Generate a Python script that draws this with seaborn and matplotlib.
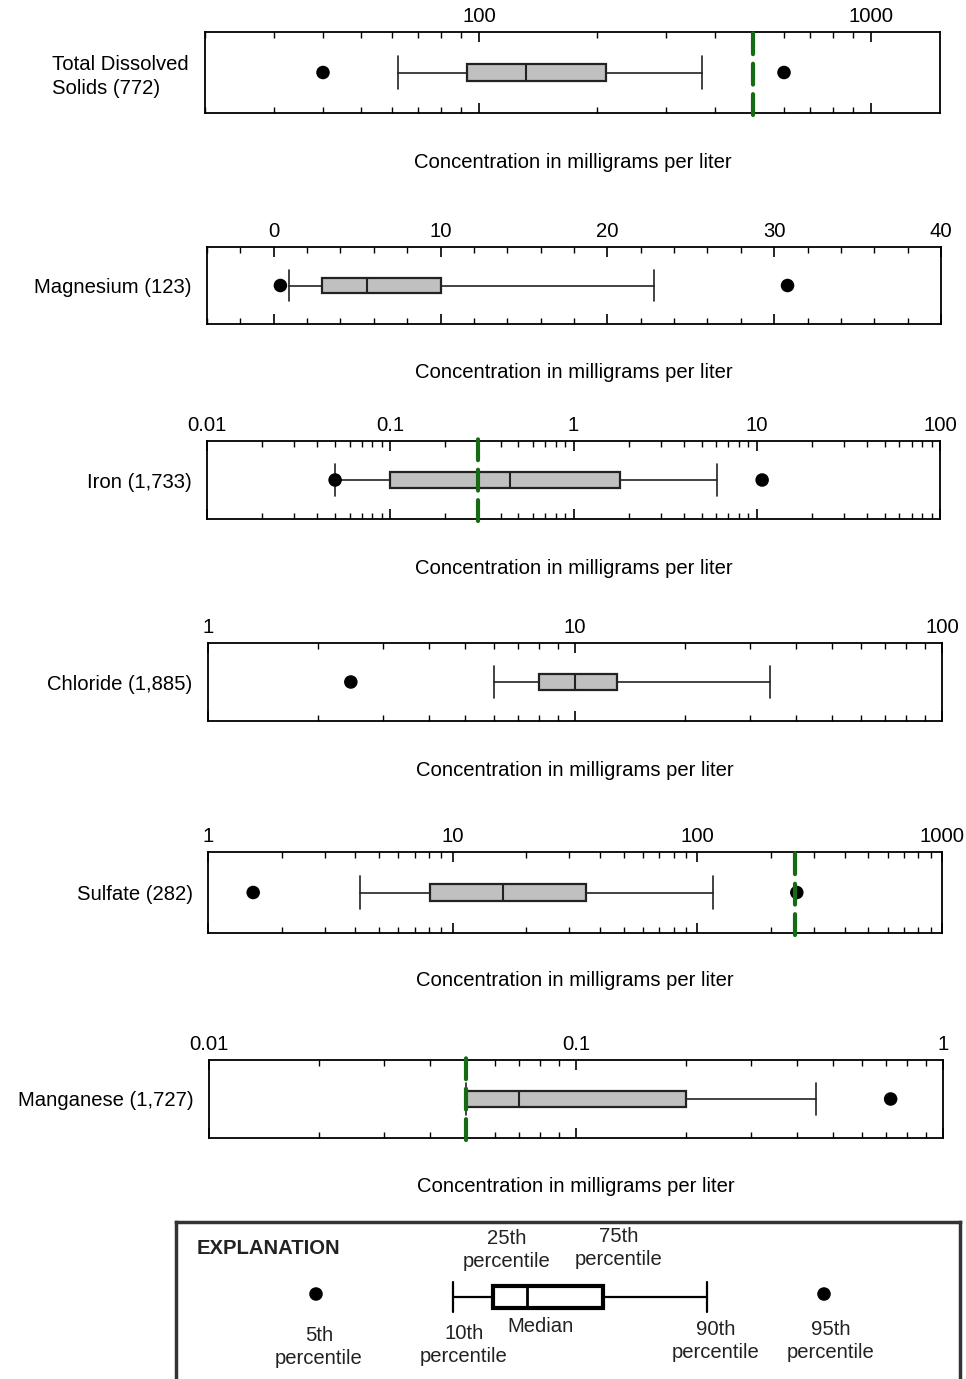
import numpy as np
import matplotlib
matplotlib.use("Agg")
import matplotlib.pyplot as plt
import seaborn as sns
from matplotlib.ticker import FuncFormatter, MultipleLocator, LogLocator, NullFormatter

# -----------------------------------------------
# Datos: percentiles por constituyente (mg/L)
analitos = ["Total Dissolved\nSolids (772)", "Magnesium (123)", "Iron (1,733)",
            "Chloride (1,885)", "Sulfate (282)", "Manganese (1,727)"]
p05 = [40, 0.4, 0.05, 2.45, 1.53, np.nan]
p10 = [62, 0.9, 0.05, 6.0, 4.2, 0.05]
p25 = [93, 2.9, 0.10, 8.0, 8.1, 0.05]
p50 = [132, 5.6, 0.45, 10.0, 16.0, 0.07]
p75 = [211, 10.0, 1.8, 13.0, 35.0, 0.20]
p90 = [370, 22.8, 6.1, 34.0, 116.0, 0.45]
p95 = [600, 30.8, 10.7, np.nan, 255.0, 0.72]
# Nivel secundario máximo de contaminante (línea verde)
smcl = [500, np.nan, 0.3, np.nan, 250, 0.05]
escalas = ["log", "linear", "log", "log", "log", "log"]
limites = [(20, 1500), (-4, 40), (0.01, 100), (1, 100), (1, 1000), (0.01, 1)]

# Esquema de la explicación (en unidades del eje de la leyenda)
clave_percentiles = [316, 453, 493, 527, 603, 707, 824]

# -----------------------------------------------
sns.set_theme(style="white")
plt.rcParams['font.family'] = ['Liberation Sans', 'DejaVu Sans']

W, H = 966, 1379
FS = 14.6
fig = plt.figure(figsize=(W / 100, H / 100), dpi=100)


def caja(x0, x1, y0, y1):
    return [x0 / W, 1 - y1 / H, (x1 - x0) / W, (y1 - y0) / H]


paneles = [(205, 940, 32, 113), (207, 941, 247, 324), (207, 940, 441, 519),
           (208, 942, 643, 721), (208, 942, 852, 933), (209, 943, 1060, 1138)]
y_titulo = [162, 372, 568, 770, 981, 1186]
oscuro = "#222222"

for i, nombre in enumerate(analitos):
    ax = fig.add_axes(caja(*paneles[i]))
    ax.set_xscale(escalas[i])

    stats = [dict(whislo=p10[i], q1=p25[i], med=p50[i], q3=p75[i],
                  whishi=p90[i], fliers=[], label="")]
    ax.bxp(stats, positions=[0], widths=0.4, capwidths=0.8,
           orientation="horizontal", patch_artist=True, showfliers=False,
           manage_ticks=False,
           boxprops=dict(facecolor="#c0c0c0", edgecolor=oscuro, linewidth=1.6),
           medianprops=dict(color=oscuro, linewidth=1.5),
           whiskerprops=dict(color=oscuro, linewidth=1.2),
           capprops=dict(color=oscuro, linewidth=1.2))

    puntos = [v for v in (p05[i], p95[i]) if not np.isnan(v)]
    sns.scatterplot(x=puntos, y=[0] * len(puntos), ax=ax, color="black",
                    s=95, edgecolor="none", legend=False, zorder=5)

    if not np.isnan(smcl[i]):
        ax.axvline(smcl[i], ymin=-0.03, ymax=1.03, clip_on=False,
                   color="#146b14", lw=3, linestyle=(0, (5, 2.3)),
                   dash_capstyle="round", zorder=6)

    ax.set_xlim(limites[i])
    ax.set_ylim(-1, 1)

    if escalas[i] == "log":
        ax.xaxis.set_major_locator(LogLocator(base=10))
        ax.xaxis.set_minor_locator(LogLocator(base=10, subs=np.arange(2, 10)))
    else:
        ax.xaxis.set_major_locator(MultipleLocator(10))
        ax.xaxis.set_minor_locator(MultipleLocator(2))
    ax.xaxis.set_major_formatter(FuncFormatter(lambda v, p: f"{v:g}"))
    ax.xaxis.set_minor_formatter(NullFormatter())

    ax.set_yticks([0], [nombre])
    for lbl in ax.get_yticklabels():
        lbl.set_multialignment("left")
        lbl.set_linespacing(1.32)
    ax.tick_params(axis="y", length=0, pad=12 if "\n" in nombre else 11,
                   labelsize=FS, labelcolor="black")
    ax.tick_params(axis="x", which="both", direction="in", top=True, bottom=True,
                   labeltop=True, labelbottom=False, labelsize=FS, pad=4,
                   color="black", labelcolor="black")
    ax.tick_params(axis="x", which="major", length=7, width=1.2)
    ax.tick_params(axis="x", which="minor", length=4, width=1.0)
    for s in ax.spines.values():
        s.set_color("black")
        s.set_linewidth(1.3)

    fig.text((paneles[i][0] + paneles[i][1]) / 2 / W, 1 - y_titulo[i] / H,
             "Concentration in milligrams per liter", ha="center", va="center",
             fontsize=FS, color="black")

# -----------------------------------------------
# Cuadro de explicación
axl = fig.add_axes(caja(176, 960, 1222, 1392))
axl.set_xlim(176, 960)
axl.set_ylim(1392, 1222)
k = clave_percentiles
axl.bxp([dict(whislo=k[1], q1=k[2], med=k[3], q3=k[4], whishi=k[5],
              fliers=[], label="")],
        positions=[1297], widths=22, capwidths=30, orientation="horizontal",
        patch_artist=True, showfliers=False, manage_ticks=False,
        boxprops=dict(facecolor="white", edgecolor="black", linewidth=3),
        medianprops=dict(color="black", linewidth=2),
        whiskerprops=dict(color="black", linewidth=1.6),
        capprops=dict(color="black", linewidth=1.6))
sns.scatterplot(x=[k[0], k[6]], y=[1294, 1294], ax=axl, color="black",
                s=95, edgecolor="none", legend=False, zorder=5)

textos_clave = [("25th\npercentile", 507, 1250), ("75th\npercentile", 619, 1248),
                ("Median", 541, 1326), ("5th\npercentile", 319, 1347),
                ("10th\npercentile", 464, 1345), ("90th\npercentile", 716, 1341),
                ("95th\npercentile", 831, 1341)]
for txt, x, y in textos_clave:
    axl.text(x, y, txt, ha="center", va="center", fontsize=FS,
             color="#222222", linespacing=1.3)
axl.text(197, 1248, "EXPLANATION", ha="left", va="center", fontsize=FS,
         fontweight="bold", color="#222222")

axl.set_xticks([])
axl.set_yticks([])
for s in axl.spines.values():
    s.set_color("#333333")
    s.set_linewidth(2.5)

fig.savefig("out.png", dpi=100)
plt.close(fig)
